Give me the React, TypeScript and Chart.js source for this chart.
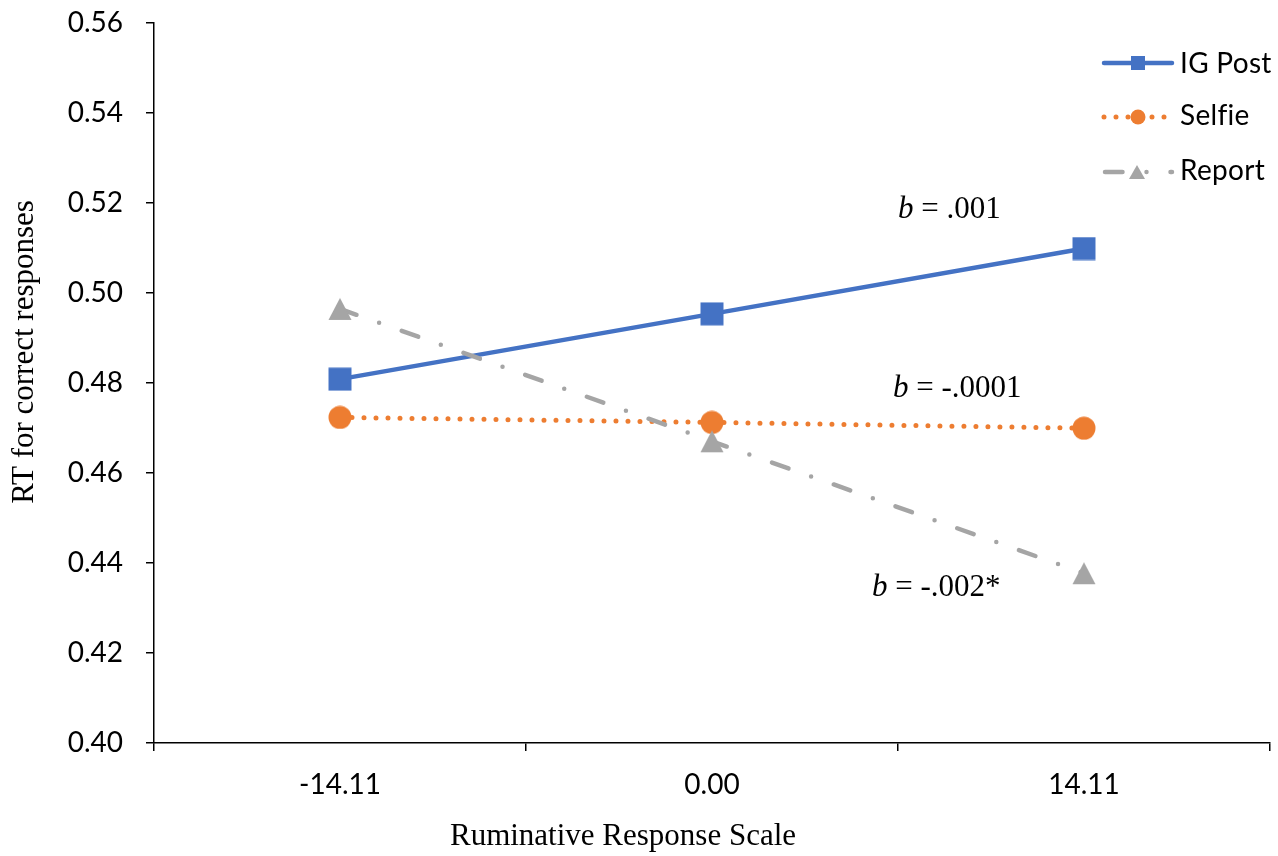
import React, { useEffect, useRef } from 'react';
import { Chart, registerables } from 'chart.js';

Chart.register(...registerables);

// ---- data ----
const categories = ['-14.11', '0.00', '14.11'];
const seriesNames = ['IG Post', 'Selfie', 'Report'];
const igPost = [0.4808, 0.4953, 0.5098];
const selfie = [0.4723, 0.4712, 0.4699];
const report = [0.4964, 0.467, 0.4377];
const yMin = 0.4;
const yMax = 0.56;
const yStep = 0.02;
const slopeValues = ['.001', '-.0001', '-.002*'];
const xTitle = 'Ruminative Response Scale';
const yTitle = 'RT for correct responses';

// ---- layout / style ----
const BLUE = '#4472C4';
const ORANGE = '#ED7D31';
const GRAY = '#A5A5A5';
const SANS = 'Lato';
const SERIF = '"Liberation Serif"';
const slopePos = [
  { x: 898, y: 218 },
  { x: 893, y: 397 },
  { x: 872, y: 596 },
];
const legendRows = [63, 117, 172];
const legendText = [73, 125, 180];
const reportDash = [17.5, 24, 0, 24];
const selfieDash = [0, 12];

function makeMarker(kind: string, color: string): HTMLCanvasElement {
  const c = document.createElement('canvas');
  c.width = 24;
  c.height = 24;
  const g = c.getContext('2d')!;
  g.fillStyle = color;
  g.beginPath();
  if (kind === 'square') {
    g.rect(0.5, 0.5, 23, 23);
  } else if (kind === 'circle') {
    g.arc(12, 12, 11.5, 0, Math.PI * 2);
  } else {
    g.moveTo(12, 1);
    g.lineTo(23.5, 23);
    g.lineTo(0.5, 23);
    g.closePath();
  }
  g.fill();
  return c;
}

const overlay = {
  id: 'overlay',
  afterDraw(chart: any) {
    const ctx: CanvasRenderingContext2D = chart.ctx;
    ctx.save();
    ctx.fillStyle = '#000';
    // axis titles
    ctx.font = `31px ${SERIF}`;
    ctx.textAlign = 'center';
    ctx.textBaseline = 'alphabetic';
    ctx.fillText(xTitle, 623, 845);
    ctx.save();
    ctx.translate(33, 352);
    ctx.rotate(-Math.PI / 2);
    ctx.fillText(yTitle, 0, 0);
    ctx.restore();

    // slope annotations
    ctx.textAlign = 'left';
    slopeValues.forEach((v, i) => {
      const p = slopePos[i];
      ctx.font = `italic 31px ${SERIF}`;
      ctx.fillText('b', p.x, p.y);
      const w = ctx.measureText('b').width;
      ctx.font = `31px ${SERIF}`;
      ctx.fillText(' = ' + v, p.x + w, p.y);
    });

    // legend
    const x0 = 1104;
    const x1 = 1172;
    const mx = 1138;
    ctx.lineCap = 'round';
    // IG Post
    ctx.strokeStyle = BLUE;
    ctx.lineWidth = 4.5;
    ctx.setLineDash([]);
    ctx.beginPath();
    ctx.moveTo(x0, legendRows[0]);
    ctx.lineTo(x1, legendRows[0]);
    ctx.stroke();
    ctx.fillStyle = BLUE;
    ctx.fillRect(mx - 7, legendRows[0] - 7, 14, 14);
    // Selfie
    ctx.strokeStyle = ORANGE;
    ctx.lineWidth = 5;
    ctx.setLineDash(selfieDash);
    ctx.beginPath();
    ctx.moveTo(x0, legendRows[1]);
    ctx.lineTo(x1, legendRows[1]);
    ctx.stroke();
    ctx.setLineDash([]);
    ctx.fillStyle = ORANGE;
    ctx.beginPath();
    ctx.arc(mx, legendRows[1], 7.5, 0, Math.PI * 2);
    ctx.fill();
    // Report
    ctx.strokeStyle = GRAY;
    ctx.lineWidth = 4.5;
    ctx.setLineDash(reportDash);
    ctx.beginPath();
    ctx.moveTo(x0 + 1, legendRows[2]);
    ctx.lineTo(x1, legendRows[2]);
    ctx.stroke();
    ctx.setLineDash([]);
    ctx.fillStyle = GRAY;
    ctx.beginPath();
    ctx.moveTo(1137, legendRows[2] - 7);
    ctx.lineTo(1145, legendRows[2] + 7);
    ctx.lineTo(1129, legendRows[2] + 7);
    ctx.closePath();
    ctx.fill();

    ctx.fillStyle = '#000';
    ctx.font = `28px ${SANS}`;
    ctx.textAlign = 'left';
    ctx.textBaseline = 'alphabetic';
    (ctx as any).letterSpacing = '0.3px';
    seriesNames.forEach((n, i) => ctx.fillText(n, 1180, legendText[i]));
    (ctx as any).letterSpacing = '0px';
    ctx.restore();
  },
};

export default function App() {
  const ref = useRef<HTMLCanvasElement>(null);
  useEffect(() => {
    const canvas = ref.current!;
    const sq = makeMarker('square', BLUE);
    const ci = makeMarker('circle', ORANGE);
    const tri = makeMarker('triangle', GRAY);

    const tickFont = { family: SANS, size: 28 };
    const chart = new Chart(canvas, {
      type: 'line',
      data: {
        labels: categories,
        datasets: [
          {
            label: seriesNames[0],
            data: igPost,
            borderColor: BLUE,
            backgroundColor: BLUE,
            borderWidth: 4.5,
            borderCapStyle: 'round',
            pointStyle: sq as any,
            pointRadius: 3,
            pointBorderWidth: 0,
            order: 2,
          },
          {
            label: seriesNames[1],
            data: selfie,
            borderColor: ORANGE,
            backgroundColor: ORANGE,
            borderWidth: 5,
            borderDash: selfieDash,
            borderCapStyle: 'round',
            pointStyle: ci as any,
            pointRadius: 3,
            pointBorderWidth: 0,
            order: 1,
          },
          {
            label: seriesNames[2],
            data: report,
            borderColor: GRAY,
            backgroundColor: GRAY,
            borderWidth: 4.5,
            borderDash: reportDash,
            borderCapStyle: 'round',
            pointStyle: tri as any,
            pointRadius: 3,
            pointBorderWidth: 0,
            order: 0,
          },
        ],
      },
      options: {
        responsive: false,
        animation: false,
        layout: { padding: { top: 22.5, right: 8, left: 0, bottom: 0 } },
        plugins: { legend: { display: false }, tooltip: { enabled: false } },
        scales: {
          x: {
            type: 'category',
            offset: true,
            grid: {
              offset: true,
              drawOnChartArea: false,
              drawTicks: true,
              tickLength: 8,
              color: '#000',
              lineWidth: 1.5,
            },
            border: { color: '#000', width: 1.5 },
            ticks: { color: '#000', font: tickFont, padding: 17, maxRotation: 0 },
            afterFit: (s: any) => {
              s.height = 113;
              s.paddingLeft = 0;
              s.paddingRight = 0;
            },
          },
          y: {
            min: yMin,
            max: yMax,
            grid: {
              drawOnChartArea: false,
              drawTicks: true,
              tickLength: 8,
              color: '#000',
              lineWidth: 1.5,
            },
            border: { color: '#000', width: 1.5 },
            ticks: {
              stepSize: yStep,
              color: '#000',
              font: tickFont,
              padding: 23,
              callback: (v: any) => Number(v).toFixed(2),
            },
            afterFit: (s: any) => {
              s.width = 154;
              s.paddingTop = 0;
              s.paddingBottom = 0;
            },
          },
        },
      },
      plugins: [overlay],
    });
    return () => chart.destroy();
  }, []);
  return (
    <div style={{ position: 'absolute', left: 0, top: 0, width: 1278, height: 856, background: '#fff' }}>
      <canvas ref={ref} width={1278} height={856} style={{ display: 'block' }} />
    </div>
  );
}
